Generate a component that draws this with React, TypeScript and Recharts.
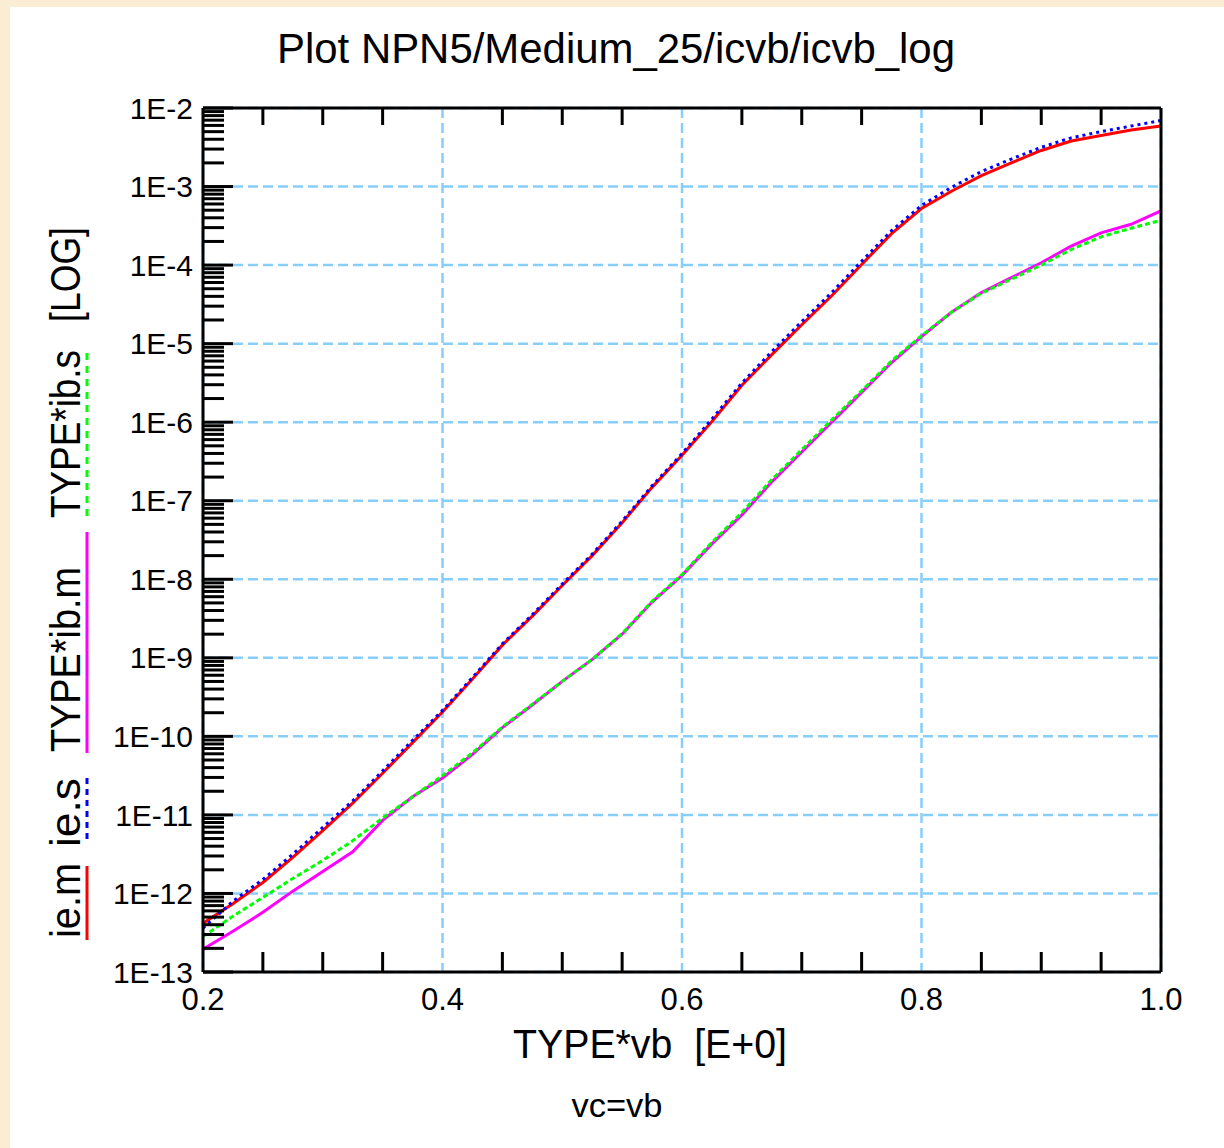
import React from 'react';
import { LineChart, Line, XAxis, YAxis, CartesianGrid } from 'recharts';

const vb = [0.2, 0.225, 0.25, 0.275, 0.3, 0.325, 0.35, 0.375, 0.4, 0.425, 0.45, 0.475, 0.5, 0.525, 0.55, 0.575, 0.6, 0.625, 0.65, 0.675, 0.7, 0.725, 0.75, 0.775, 0.8, 0.825, 0.85, 0.875, 0.9, 0.925, 0.95, 0.975, 1.0];

const ieM = [4.17e-13, 7.41e-13, 1.38e-12, 2.88e-12, 6.31e-12, 1.41e-11, 3.39e-11, 8.32e-11, 2.04e-10, 5.37e-10, 1.45e-9, 3.39e-9, 8.32e-9, 2.0e-8, 5.25e-8, 1.48e-7, 3.8e-7, 1.02e-6, 2.95e-6, 7.24e-6, 1.74e-5, 4.07e-5, 1.02e-4, 2.51e-4, 5.25e-4, 8.71e-4, 1.38e-3, 2.0e-3, 2.88e-3, 3.8e-3, 4.47e-3, 5.25e-3, 5.89e-3];

const ieS = [3.63e-13, 7.94e-13, 1.51e-12, 3.16e-12, 6.92e-12, 1.51e-11, 3.63e-11, 8.91e-11, 2.14e-10, 5.62e-10, 1.51e-9, 3.55e-9, 8.71e-9, 2.09e-8, 5.5e-8, 1.55e-7, 3.98e-7, 1.1e-6, 3.16e-6, 7.94e-6, 1.91e-5, 4.47e-5, 1.12e-4, 2.75e-4, 5.75e-4, 9.77e-4, 1.55e-3, 2.24e-3, 3.16e-3, 4.17e-3, 5.01e-3, 5.89e-3, 6.92e-3];

const ibM = [1.95e-13, 3.31e-13, 5.75e-13, 1.07e-12, 1.91e-12, 3.39e-12, 8.51e-12, 1.7e-11, 2.95e-11, 5.89e-11, 1.29e-10, 2.51e-10, 5.01e-10, 9.55e-10, 2.0e-9, 5.13e-9, 1.12e-8, 2.82e-8, 6.61e-8, 1.74e-7, 4.17e-7, 1.0e-6, 2.4e-6, 5.75e-6, 1.23e-5, 2.51e-5, 4.47e-5, 6.92e-5, 1.07e-4, 1.74e-4, 2.57e-4, 3.31e-4, 4.9e-4];

const ibS = [2.82e-13, 5.13e-13, 8.91e-13, 1.55e-12, 2.63e-12, 4.68e-12, 9.12e-12, 1.7e-11, 3.16e-11, 6.17e-11, 1.32e-10, 2.57e-10, 5.01e-10, 9.55e-10, 2.04e-9, 5.25e-9, 1.15e-8, 2.95e-8, 7.08e-8, 1.86e-7, 4.47e-7, 1.07e-6, 2.51e-6, 6.03e-6, 1.26e-5, 2.51e-5, 4.37e-5, 6.61e-5, 1.0e-4, 1.58e-4, 2.29e-4, 2.95e-4, 3.72e-4];

const xTicks = [0.2, 0.4, 0.6, 0.8, 1.0];
const xTickLabels = ['0.2', '0.4', '0.6', '0.8', '1.0'];
const xMinorTicks = [0.25, 0.3, 0.35, 0.45, 0.5, 0.55, 0.65, 0.7, 0.75, 0.85, 0.9, 0.95];

const yTicks = [1e-13, 1e-12, 1e-11, 1e-10, 1e-9, 1e-8, 1e-7, 1e-6, 1e-5, 1e-4, 1e-3, 1e-2];
const yTickLabels = ['1E-13', '1E-12', '1E-11', '1E-10', '1E-9', '1E-8', '1E-7', '1E-6', '1E-5', '1E-4', '1E-3', '1E-2'];
const minorMultipliers = [2, 3, 4, 5, 6, 7, 8, 9];
const yMinorTicks = yTicks.slice(0, -1).flatMap((d) => minorMultipliers.map((m) => m * d));

const data = vb.map((x, i) => ({ vb: x, ieM: ieM[i], ieS: ieS[i], ibM: ibM[i], ibS: ibS[i] }));

const FONT = "'Liberation Sans', Arial, Helvetica, sans-serif";
const W = 1224;
const H = 1148;

const fmtX = (v: number) => {
  const i = xTicks.findIndex((t) => Math.abs(t - v) < 1e-9);
  return i >= 0 ? xTickLabels[i] : '';
};
const fmtY = (v: number) => {
  const i = yTicks.findIndex((t) => Math.abs(Math.log10(t) - Math.log10(v)) < 1e-6);
  return i >= 0 ? yTickLabels[i] : '';
};
const blank = () => '';
const noLabel = { fill: 'none', fontSize: 1 };

const blackLine = { stroke: '#000', strokeWidth: 3 };

export default function App() {
  return (
    <div style={{ position: 'fixed', left: 0, top: 0, width: W, height: H, background: '#FAEDD3', overflow: 'hidden' }}>
      <div style={{ position: 'absolute', left: 10, top: 7, width: W - 10, height: H - 7, background: '#fff' }} />
      <div style={{ position: 'absolute', left: 0, top: 0 }}>
        <LineChart width={W} height={H} data={data} margin={{ top: 108, left: 202, right: 62, bottom: 175 }}>
          <CartesianGrid xAxisId="main" yAxisId="main" stroke="#87CEFA" strokeWidth={2.5} strokeDasharray="10 5" />
          <XAxis xAxisId="main" type="number" dataKey="vb" domain={[0.2, 1.0]} ticks={xTicks} tickFormatter={fmtX}
            height={1} tickSize={0} tickMargin={16} interval={0} allowDataOverflow
            axisLine={blackLine} tickLine={false} tick={{ fontSize: 31, fill: '#000', fontFamily: FONT }} />
          <XAxis xAxisId="bMinor" type="number" dataKey="vb" domain={[0.2, 1.0]} ticks={xMinorTicks} height={1}
            mirror tickSize={20} tick={noLabel} tickFormatter={blank} interval={0} allowDataOverflow axisLine={false} tickLine={blackLine} />
          <XAxis xAxisId="tMinor" orientation="top" type="number" dataKey="vb" domain={[0.2, 1.0]} ticks={xMinorTicks} height={1}
            mirror tickSize={17} tick={noLabel} tickFormatter={blank} interval={0} allowDataOverflow axisLine={blackLine} tickLine={blackLine} />
          <YAxis yAxisId="main" type="number" scale="log" domain={[1e-13, 1e-2]} ticks={yTicks} tickFormatter={fmtY}
            width={1} tickSize={0} tickMargin={10} interval={0} allowDataOverflow
            axisLine={blackLine} tickLine={false} tick={{ fontSize: 30, fill: '#000', fontFamily: FONT }} />
          <YAxis yAxisId="lMinor" type="number" scale="log" domain={[1e-13, 1e-2]} ticks={yMinorTicks}
            width={1} mirror tickSize={20} tick={noLabel} tickFormatter={blank} interval={0} allowDataOverflow axisLine={false} tickLine={blackLine} />
          <YAxis yAxisId="lMajor" type="number" scale="log" domain={[1e-13, 1e-2]} ticks={yTicks}
            width={1} mirror tickSize={30} tick={noLabel} tickFormatter={blank} interval={0} allowDataOverflow axisLine={false} tickLine={blackLine} />
          <YAxis yAxisId="right" orientation="right" type="number" scale="log" domain={[1e-13, 1e-2]} ticks={yTicks}
            width={1} tick={false} tickLine={false} interval={0} allowDataOverflow axisLine={blackLine} />
          <Line xAxisId="main" yAxisId="main" type="linear" dataKey="ibM" stroke="#FF00FF" strokeWidth={3} dot={false} isAnimationActive={false} />
          <Line xAxisId="main" yAxisId="main" type="linear" dataKey="ibS" stroke="#00FF00" strokeWidth={3} strokeDasharray="5 3" dot={false} isAnimationActive={false} />
          <Line xAxisId="main" yAxisId="main" type="linear" dataKey="ieM" stroke="#FF0000" strokeWidth={3} dot={false} isAnimationActive={false} />
          <Line xAxisId="main" yAxisId="main" type="linear" dataKey="ieS" stroke="#0000FF" strokeWidth={3} strokeDasharray="3 4" dot={false} isAnimationActive={false} />
        </LineChart>
      </div>
      <svg width={W} height={H} style={{ position: 'absolute', left: 0, top: 0, pointerEvents: 'none' }} fontFamily={FONT}>
        <text x={616} y={63} fontSize={42} textAnchor="middle" textLength={678} lengthAdjust="spacingAndGlyphs">Plot NPN5/Medium_25/icvb/icvb_log</text>
        <text x={650} y={1058} fontSize={40} textAnchor="middle" textLength={274} lengthAdjust="spacingAndGlyphs" style={{ whiteSpace: 'pre' }}>{'TYPE*vb  [E+0]'}</text>
        <text x={617} y={1117} fontSize={34} textAnchor="middle" textLength={91} lengthAdjust="spacingAndGlyphs">vc=vb</text>
        <text transform="translate(80,938) rotate(-90)" fontSize={42} textLength={75} lengthAdjust="spacingAndGlyphs">ie.m</text>
        <text transform="translate(80,847) rotate(-90)" fontSize={42} textLength={69} lengthAdjust="spacingAndGlyphs">ie.s</text>
        <text transform="translate(80,752) rotate(-90)" fontSize={42} textLength={185} lengthAdjust="spacingAndGlyphs">TYPE*ib.m</text>
        <text transform="translate(80,518) rotate(-90)" fontSize={42} textLength={168} lengthAdjust="spacingAndGlyphs">TYPE*ib.s</text>
        <text transform="translate(80,322) rotate(-90)" fontSize={42} textLength={95} lengthAdjust="spacingAndGlyphs">[LOG]</text>
        <line x1={87} y1={866} x2={87} y2={940} stroke="#FF0000" strokeWidth={3} />
        <line x1={87} y1={778} x2={87} y2={843} stroke="#0000FF" strokeWidth={3} strokeDasharray="6 5" />
        <line x1={87} y1={532} x2={87} y2={753} stroke="#FF00FF" strokeWidth={3} />
        <line x1={87} y1={353} x2={87} y2={518} stroke="#00FF00" strokeWidth={3} strokeDasharray="7 6" />
      </svg>
    </div>
  );
}
